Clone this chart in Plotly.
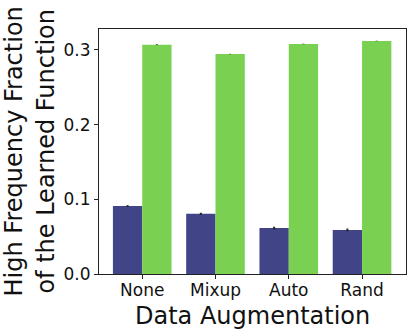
import plotly.graph_objects as go

categories = ["None", "Mixup", "Auto", "Rand"]
blue_vals = [0.091, 0.0805, 0.0615, 0.059]
blue_err = [0.0012, 0.0015, 0.0018, 0.0018]
green_vals = [0.307, 0.2945, 0.308, 0.312]
green_err = [0.0005, 0.0003, 0.0003, 0.0003]
y_ticks = [0.0, 0.1, 0.2, 0.3]

FONT = "DejaVu Sans"

fig = go.Figure()
fig.add_trace(go.Bar(
    x=categories, y=blue_vals, marker_color="#414487", marker_line_width=0,
    error_y=dict(type="data", array=blue_err, color="#222222", thickness=2, width=0),
    showlegend=False,
))
fig.add_trace(go.Bar(
    x=categories, y=green_vals, marker_color="#7AD151", marker_line_width=0,
    error_y=dict(type="data", array=green_err, color="#222222", thickness=2, width=0),
    showlegend=False,
))

fig.update_layout(
    width=412, height=334,
    margin=dict(l=99, r=6, t=29, b=60),
    barmode="group", bargap=0.2, bargroupgap=0,
    plot_bgcolor="white", paper_bgcolor="white",
    font=dict(family=FONT, color="black"),
)
fig.update_xaxes(
    range=[-0.59, 3.6], showgrid=False, showline=True, mirror=True,
    linecolor="#222222", linewidth=1.2, ticks="outside", ticklen=4, tickcolor="#222222",
    ticklabelstandoff=-4,
    tickfont=dict(size=17, family=FONT, color="#111111"),
)
fig.update_yaxes(
    range=[0, 0.328], tickvals=y_ticks, tickformat=".1f", showgrid=False, zeroline=False,
    showline=True, mirror=True, linecolor="#222222", linewidth=1.2,
    ticks="outside", ticklen=4, tickcolor="#222222",
    tickfont=dict(size=17, family=FONT, color="#111111"),
)
fig.add_annotation(
    text="Data Augmentation", xref="paper", yref="paper", x=0.5, y=-0.105,
    xanchor="center", yanchor="top", showarrow=False,
    font=dict(size=24, family=FONT, color="#111111"),
)
fig.add_annotation(
    text="High Frequency Fraction<br>of the Learned Function", xref="paper", yref="paper",
    x=-0.225, y=0.5, xanchor="center", yanchor="middle", textangle=-90, showarrow=False,
    font=dict(size=24, family=FONT, color="#111111"),
)
fig.write_html("out.html", config={"displayModeBar": False},
               post_script="document.body.style.margin='0';")
